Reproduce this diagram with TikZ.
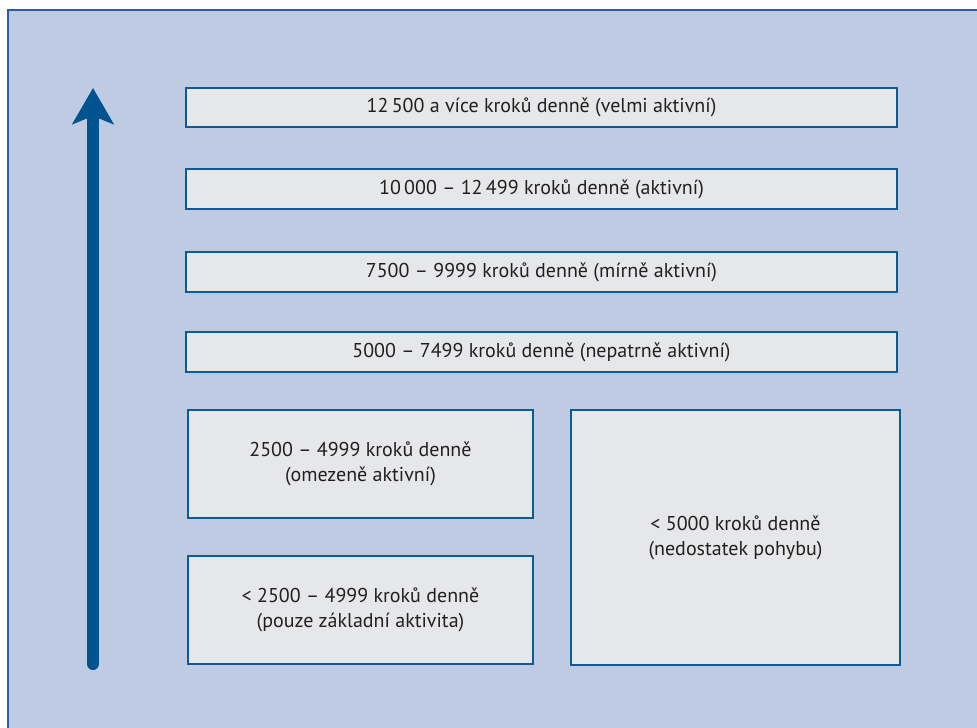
\documentclass[tikz,border=0pt]{standalone}
\usepackage{fontspec}
\setmainfont{PT Sans}
\usetikzlibrary{arrows.meta}
\definecolor{bgblue}{HTML}{BFCBE2}
\definecolor{framebl}{HTML}{2A5CAA}
\definecolor{boxbl}{HTML}{0D5A94}
\definecolor{boxfill}{HTML}{E6E7E9}
\definecolor{txt}{HTML}{231F20}
\definecolor{arrowbl}{HTML}{00538F}
\tikzset{
  stepbox/.style={draw=boxbl, line width=2.6pt, fill=boxfill, rectangle, inner sep=0pt,
     text=txt, font=\fontsize{20}{25}\selectfont, align=center},
}
\begin{document}
\begin{tikzpicture}[x=1pt,y=-1pt]
\useasboundingbox (0,0) rectangle (977,728);
\fill[white] (0,0) rectangle (977,728);
\fill[bgblue] (8,10) rectangle (980,731);
\draw[framebl, line width=2pt] (8,731) -- (8,10) -- (980,10);
\node[stepbox, minimum width=711pt, minimum height=39pt] (b1) at (541.5,107.5) {12\,500 a více kroků denně (velmi aktivní)};
\node[stepbox, minimum width=711pt, minimum height=40pt] (b2) at (541.5,189) {10\,000 – 12\,499 kroků denně (aktivní)};
\node[stepbox, minimum width=711pt, minimum height=40pt] (b3) at (541.5,272) {7500 – 9999 kroků denně (mírně aktivní)};
\node[stepbox, minimum width=711pt, minimum height=40pt] (b4) at (541.5,352) {5000 – 7499 kroků denně (nepatrně aktivní)};
\node[stepbox, minimum width=345pt, minimum height=108pt] (b5) at (360.5,464) {2500 – 4999 kroků denně\\(omezeně aktivní)};
\node[stepbox, minimum width=345pt, minimum height=108pt] (b6) at (360.5,610) {< 2500 – 4999 kroků denně\\(pouze základní aktivita)};
\node[stepbox, minimum width=329pt, minimum height=255pt] (b7) at (735.5,537.5) {< 5000 kroků denně\\(nedostatek pohybu)};
\coordinate (abot) at (93,664);
\coordinate (atop) at (93,88);
\draw[arrowbl, line width=12pt, line cap=round, -{Stealth[length=36pt,width=41pt,inset=8pt]}] (abot) -- (atop);
\end{tikzpicture}
\end{document}
